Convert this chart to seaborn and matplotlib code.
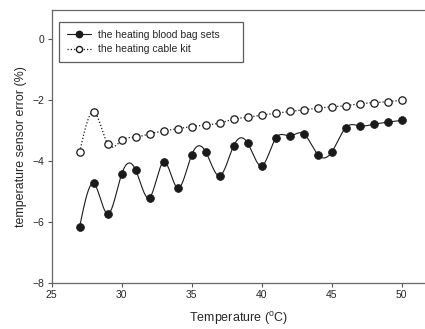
import numpy as np
import matplotlib
matplotlib.use("Agg")
import matplotlib.pyplot as plt
import seaborn as sns
from matplotlib.lines import Line2D

# temperature steps (deg C)
temperature = list(range(27, 51))

# sensor error (%)
blood_bag = [-6.14, -4.73, -5.73, -4.42, -4.29, -5.19, -4.02, -4.88, -3.79, -3.69,
             -4.48, -3.49, -3.41, -4.15, -3.25, -3.17, -3.10, -3.78, -3.70, -2.90,
             -2.84, -2.79, -2.72, -2.66]
cable_kit = [-3.69, -2.38, -3.43, -3.32, -3.21, -3.10, -3.01, -2.93, -2.87, -2.81,
             -2.75, -2.62, -2.56, -2.49, -2.43, -2.37, -2.32, -2.26, -2.22, -2.18,
             -2.12, -2.08, -2.05, -2.00]

series_names = ["the heating blood bag sets", "the heating cable kit"]
x_ticks = [25, 30, 35, 40, 45, 50]
y_ticks = [-8, -6, -4, -2, 0]


def spline_curve(x, y, n=40):
    """Natural cubic spline through the points, as SigmaPlot draws it."""
    x = np.asarray(x, float)
    y = np.asarray(y, float)
    k = len(x)
    h = np.diff(x)
    A = np.zeros((k, k))
    b = np.zeros(k)
    A[0, 0] = A[-1, -1] = 1
    for i in range(1, k - 1):
        A[i, i - 1] = h[i - 1]
        A[i, i] = 2 * (h[i - 1] + h[i])
        A[i, i + 1] = h[i]
        b[i] = 6 * ((y[i + 1] - y[i]) / h[i] - (y[i] - y[i - 1]) / h[i - 1])
    m = np.linalg.solve(A, b)
    xs, ys = [], []
    for i in range(k - 1):
        t = np.linspace(x[i], x[i + 1], n, endpoint=(i == k - 2))
        a = x[i + 1] - t
        c = t - x[i]
        s = (m[i] * a ** 3 + m[i + 1] * c ** 3) / (6 * h[i]) \
            + (y[i] / h[i] - m[i] * h[i] / 6) * a \
            + (y[i + 1] / h[i] - m[i + 1] * h[i] / 6) * c
        xs.append(t)
        ys.append(s)
    return np.concatenate(xs), np.concatenate(ys)


sns.set_style("ticks")
plt.rcParams['font.family'] = ['Liberation Sans', 'DejaVu Sans']

fig = plt.figure(figsize=(4.25, 3.29), dpi=100)
ax = fig.add_axes([0.1216, 0.139, 0.8784, 0.831])

# smooth curves
bx, by = spline_curve(temperature, blood_bag)
cx, cy = spline_curve(temperature, cable_kit)
sns.lineplot(x=bx, y=by, ax=ax, color="#1a1a1a", linewidth=0.8, sort=False)
sns.lineplot(x=cx, y=cy, ax=ax, color="#1a1a1a", linewidth=0.9, linestyle=(0, (1, 1.6)), sort=False)

# markers
sns.scatterplot(x=temperature, y=cable_kit, ax=ax, s=28, color="white",
                edgecolor="#1a1a1a", linewidth=0.9, zorder=3)
sns.scatterplot(x=temperature, y=blood_bag, ax=ax, s=32, color="#1a1a1a",
                edgecolor="#1a1a1a", linewidth=0.5, zorder=3)

ax.set_xlim(25, 51.66)
ax.set_ylim(-8, 0.96)
ax.set_xticks(x_ticks)
ax.set_yticks(y_ticks)
ax.tick_params(labelsize=7.5, length=3, width=0.8, color="#555555", pad=2)

for side in ["left", "bottom", "top"]:
    ax.spines[side].set_color("#666666")
    ax.spines[side].set_linewidth(0.9)
ax.spines["right"].set_visible(False)

ax.set_xlabel("Temperature ($^\\mathregular{o}$C)", fontsize=9, labelpad=7)
ax.set_ylabel("temperature sensor error (%)", fontsize=8.9, labelpad=4)

handles = [
    Line2D([], [], color="#1a1a1a", linewidth=0.8, marker="o", markersize=4.6,
           markerfacecolor="#1a1a1a"),
    Line2D([], [], color="#1a1a1a", linewidth=0.9, linestyle=(0, (1, 1.6)), marker="o",
           markersize=4.4, markerfacecolor="white"),
]
leg = ax.legend(handles, series_names, loc="upper left", mode="expand",
                bbox_to_anchor=(0.0196, 0.81, 0.493, 0.146), borderaxespad=0,
                fontsize=7.5, frameon=True, fancybox=False, handlelength=2.3,
                handletextpad=0.65, borderpad=0.75, labelspacing=0.45)
leg.get_frame().set_edgecolor("#333333")
leg.get_frame().set_linewidth(0.9)

fig.savefig("out.png", dpi=100)
